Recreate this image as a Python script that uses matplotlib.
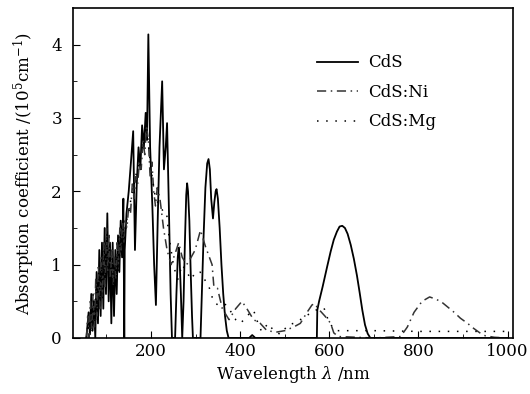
import matplotlib
matplotlib.use('Agg')
import matplotlib.pyplot as plt

# CdS (solid)
cds_wl = [55, 60, 63, 66, 69, 72, 75, 78, 81, 84, 87, 90, 93, 96, 99, 102, 105, 108, 111, 114,
          117, 120, 123, 126, 129, 132, 135, 138, 140, 141, 145, 150, 155, 160, 164, 168, 172, 176,
          180, 184, 188, 191, 194, 198, 203, 207, 211, 215, 219, 225, 229, 233, 236, 240, 244, 247,
          254, 257, 260, 262, 264, 267, 270, 273, 276, 279, 281, 283, 286, 289, 292, 294,
          311, 314, 318, 322, 326, 329, 332, 335, 339, 342, 345, 347, 350, 354, 358, 362, 366, 370, 374,
          420, 427, 434, 440, 572, 573, 577, 585, 595, 603, 610, 617, 623, 629, 635, 641, 648, 655,
          662, 668, 674, 680, 686, 692, 1000]
cds_ab = [0.0, 0.35, 0.05, 0.6, 0.1, 0.5, 0.0, 0.9, 0.2, 1.2, 0.3, 1.3, 0.4, 1.5, 0.6, 1.7, 0.5, 1.3, 0.2, 1.3,
          0.3, 1.2, 0.6, 1.4, 0.9, 1.6, 1.1, 1.9, 0.0, 1.2, 1.7, 2.0, 2.4, 2.82, 1.2, 2.1, 2.6, 2.3,
          2.9, 2.6, 3.07, 2.7, 4.14, 2.6, 1.8, 1.0, 0.45, 1.6, 2.6, 3.5, 2.3, 2.6, 2.93, 1.8, 0.6, 0.0,
          0.0, 0.6, 1.1, 1.23, 1.1, 0.6, 0.0, 0.5, 1.3, 1.95, 2.11, 2.0, 1.6, 0.9, 0.3, 0.0,
          0.0, 0.6, 1.4, 2.05, 2.38, 2.44, 2.3, 1.9, 1.63, 1.85, 2.0, 2.03, 1.9, 1.5, 1.0, 0.6, 0.3, 0.1, 0.0,
          0.0, 0.04, 0.0, 0.0, 0.0, 0.38, 0.5, 0.7, 0.97, 1.18, 1.34, 1.45, 1.52, 1.53, 1.5, 1.42, 1.27, 1.08,
          0.85, 0.62, 0.38, 0.18, 0.06, 0.0, 0.0]

# CdS:Ni (dash-dot)
ni_wl = [55, 58, 61, 64, 67, 70, 73, 76, 79, 82, 85, 88, 91, 94, 97, 100, 103, 106, 109, 112,
         115, 118, 121, 124, 127, 130, 133, 136, 139, 142, 146, 150, 154, 158, 162, 166, 170, 174,
         178, 182, 186, 190, 194, 198, 202, 206, 210, 214, 220, 228, 236, 245, 254, 262, 270, 280,
         290, 299, 311, 322, 337, 341, 349, 360, 375, 390, 404, 415, 430, 445, 460, 481, 500, 520,
         535, 550, 561, 567, 575, 590, 603, 610, 620, 700, 760, 775, 790, 808, 825, 834, 850, 864,
         880, 894, 910, 924, 940, 950, 970, 1000]
ni_ab = [0.0, 0.3, 0.0, 0.5, 0.1, 0.6, 0.15, 0.8, 0.3, 1.0, 0.4, 1.1, 0.6, 1.3, 0.7, 1.5, 0.9, 1.4, 0.8, 1.2,
         0.7, 1.1, 0.8, 1.3, 1.0, 1.5, 1.2, 1.6, 1.3, 1.6, 1.5, 1.8, 1.7, 2.1, 1.9, 2.2, 2.1, 2.4,
         2.3, 2.7, 2.5, 2.9, 2.7, 2.2, 2.4, 2.0, 1.8, 2.05, 1.9, 1.5, 1.2, 1.0, 1.15, 1.3, 1.1, 1.0,
         1.1, 1.2, 1.47, 1.25, 1.0, 0.7, 0.68, 0.4, 0.25, 0.4, 0.5, 0.4, 0.25, 0.2, 0.1, 0.08, 0.1, 0.15,
         0.2, 0.35, 0.45, 0.47, 0.4, 0.3, 0.2, 0.07, 0.02, 0.0, 0.02, 0.15, 0.35, 0.5, 0.56, 0.54, 0.5, 0.43,
         0.35, 0.27, 0.2, 0.13, 0.06, 0.03, 0.01, 0.0]

# CdS:Mg (dotted)
mg_wl = [55, 59, 62, 65, 68, 71, 74, 77, 80, 83, 86, 89, 92, 95, 98, 101, 104, 107, 110, 113,
         116, 119, 122, 125, 128, 131, 134, 137, 140, 145, 150, 155, 160, 165, 170, 175, 180, 185,
         190, 195, 200, 205, 210, 220, 230, 235, 240, 245, 251, 260, 270, 280, 290, 300, 310, 320,
         330, 340, 350, 360, 370, 380, 390, 401, 415, 430, 440, 448, 463, 475, 490, 508, 520, 535,
         550, 570, 588, 600, 615, 632, 654, 700, 800, 900, 1000]
mg_ab = [0.0, 0.2, 0.05, 0.4, 0.1, 0.55, 0.2, 0.7, 0.25, 0.9, 0.5, 1.0, 0.55, 1.2, 0.8, 1.3, 0.9, 1.2, 0.7, 1.1,
         0.6, 1.0, 0.7, 1.2, 0.9, 1.4, 1.1, 1.5, 1.3, 1.6, 1.7, 1.9, 2.0, 2.2, 2.3, 2.5, 2.6, 2.8,
         2.9, 2.6, 2.3, 2.1, 1.9, 1.8, 1.7, 1.7, 1.4, 1.2, 0.97, 0.8, 1.0, 0.9, 0.8, 0.9, 0.9, 0.8,
         0.7, 0.5, 0.45, 0.47, 0.45, 0.35, 0.25, 0.2, 0.3, 0.38, 0.2, 0.09, 0.2, 0.1, 0.05, 0.18, 0.2, 0.25,
         0.31, 0.38, 0.41, 0.2, 0.1, 0.1, 0.1, 0.1, 0.09, 0.09, 0.09]

plt.rcParams['font.family'] = 'DejaVu Serif'
plt.rcParams['mathtext.fontset'] = 'dejavuserif'

fig = plt.figure(figsize=(5.3, 3.94), dpi=100)
ax = fig.add_axes([73/530, 56/394, 440/530, 330/394])

ax.plot(cds_wl, cds_ab, color='black', lw=1.3, ls='-', label='CdS')
ax.plot(ni_wl, ni_ab, color='#333333', lw=1.1, ls=(0, (6, 3, 1, 3)), label='CdS:Ni')
ax.plot(mg_wl, mg_ab, color='black', lw=1.1, ls=(0, (1, 5)), label='CdS:Mg')

ax.set_xlim(25, 1012)
ax.set_ylim(0, 4.5)
ax.set_xticks([200, 400, 600, 800, 1000])
ax.set_xticks([100, 300, 500, 700, 900], minor=True)
ax.set_yticks([0, 1, 2, 3, 4])
ax.set_yticks([0.5, 1.5, 2.5, 3.5], minor=True)
ax.tick_params(which='both', direction='in', labelsize=12, top=False, right=False)
ax.tick_params(which='major', length=5)
ax.tick_params(which='minor', length=3)
ax.tick_params(axis='y', pad=8)
for s in ax.spines.values():
    s.set_linewidth(1.2)

ax.set_xlabel(r'Wavelength $\lambda$ /nm', fontsize=12, labelpad=3)
ax.set_ylabel(r'Absorption coefficient /(10$^5$cm$^{-1}$)', fontsize=12, labelpad=10)

ax.legend(loc='upper left', bbox_to_anchor=(0.52, 0.905), frameon=False, fontsize=12,
          handlelength=2.5, labelspacing=0.75, handletextpad=0.6)

fig.savefig('out.png', dpi=100)
